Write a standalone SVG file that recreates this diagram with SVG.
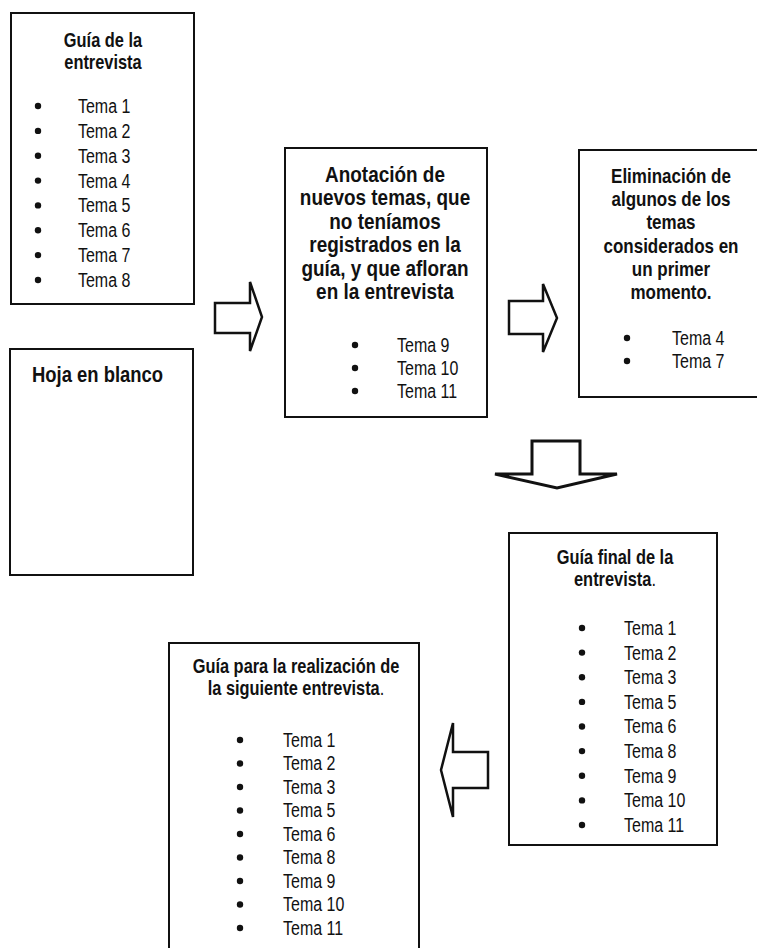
<svg xmlns="http://www.w3.org/2000/svg" width="757" height="948" viewBox="0 0 757 948">
<style>
.box{fill:#fff;stroke:#111;stroke-width:2}
.arrow{fill:#fff;stroke:#111;stroke-width:2.5;stroke-linejoin:miter}
text{font-family:"Liberation Sans",Arial,sans-serif;fill:#111}
.t{font-size:20px;font-weight:bold;text-anchor:middle}
.m{font-size:21.5px}
.i{font-size:19.5px}
.b{fill:#111}
.n{font-weight:normal}
</style>
<rect width="757" height="948" fill="#fff"/>
<g id="guia-entrevista">
<rect class="box" x="11" y="13" width="183" height="291"/>
<g transform="translate(103,0) scale(0.82,1) translate(-103,0)">
<text class="t" x="103" y="47">Guía de la</text>
<text class="t" x="103" y="69">entrevista</text>
</g>
<g class="b">
<circle cx="38" cy="106" r="3.2"/><circle cx="38" cy="130.9" r="3.2"/><circle cx="38" cy="155.7" r="3.2"/><circle cx="38" cy="180.6" r="3.2"/><circle cx="38" cy="205.4" r="3.2"/><circle cx="38" cy="230.3" r="3.2"/><circle cx="38" cy="255.1" r="3.2"/><circle cx="38" cy="280" r="3.2"/>
</g>
<g transform="translate(78,0) scale(0.82,1) translate(-78,0)">
<text class="i" x="78" y="113">Tema 1</text>
<text class="i" x="78" y="137.9">Tema 2</text>
<text class="i" x="78" y="162.7">Tema 3</text>
<text class="i" x="78" y="187.6">Tema 4</text>
<text class="i" x="78" y="212.4">Tema 5</text>
<text class="i" x="78" y="237.3">Tema 6</text>
<text class="i" x="78" y="262.1">Tema 7</text>
<text class="i" x="78" y="287">Tema 8</text>
</g>
</g>
<g id="hoja-blanco">
<rect class="box" x="10" y="349" width="183" height="226"/>
<g transform="translate(32,0) scale(0.82,1) translate(-32,0)">
<text x="32" y="382" style="font-size:22.5px;font-weight:bold">Hoja en blanco</text>
</g>
</g>
<g id="anotacion">
<rect class="box" x="285" y="148" width="202" height="269"/>
<g transform="translate(385,0) scale(0.88,1) translate(-385,0)">
<text class="t m" x="385" y="182">Anotación de</text>
<text class="t m" x="385" y="205.5">nuevos temas, que</text>
<text class="t m" x="385" y="229">no teníamos</text>
<text class="t m" x="385" y="252.5">registrados en la</text>
<text class="t m" x="385" y="276">guía, y que afloran</text>
<text class="t m" x="385" y="299.5">en la entrevista</text>
</g>
<g class="b"><circle cx="355" cy="345" r="3.2"/><circle cx="355" cy="368" r="3.2"/><circle cx="355" cy="391" r="3.2"/></g>
<g transform="translate(397,0) scale(0.82,1) translate(-397,0)">
<text class="i" x="397" y="352">Tema 9</text>
<text class="i" x="397" y="375">Tema 10</text>
<text class="i" x="397" y="398">Tema 11</text>
</g>
</g>
<g id="eliminacion">
<rect class="box" x="579" y="150" width="200" height="247"/>
<g transform="translate(671,0) scale(0.85,1) translate(-671,0)">
<text class="t" x="671" y="183">Eliminación de</text>
<text class="t" x="671" y="206">algunos de los</text>
<text class="t" x="671" y="229">temas</text>
<text class="t" x="671" y="253">considerados en</text>
<text class="t" x="671" y="276">un primer</text>
<text class="t" x="671" y="299">momento.</text>
</g>
<g class="b"><circle cx="627" cy="338" r="3.2"/><circle cx="627" cy="361" r="3.2"/></g>
<g transform="translate(672,0) scale(0.82,1) translate(-672,0)">
<text class="i" x="672" y="345">Tema 4</text>
<text class="i" x="672" y="368">Tema 7</text>
</g>
</g>
<g id="guia-final">
<rect class="box" x="509" y="533" width="208" height="312"/>
<g transform="translate(615,0) scale(0.82,1) translate(-615,0)">
<text class="t" x="615" y="564">Guía final de la</text>
<text class="t" x="615" y="586">entrevista<tspan class="n">.</tspan></text>
</g>
<g class="b">
<circle cx="582" cy="628" r="3.2"/><circle cx="582" cy="652.6" r="3.2"/><circle cx="582" cy="677.3" r="3.2"/><circle cx="582" cy="701.9" r="3.2"/><circle cx="582" cy="726.5" r="3.2"/><circle cx="582" cy="751.1" r="3.2"/><circle cx="582" cy="775.8" r="3.2"/><circle cx="582" cy="800.4" r="3.2"/><circle cx="582" cy="825" r="3.2"/>
</g>
<g transform="translate(624,0) scale(0.82,1) translate(-624,0)">
<text class="i" x="624" y="635">Tema 1</text>
<text class="i" x="624" y="659.6">Tema 2</text>
<text class="i" x="624" y="684.3">Tema 3</text>
<text class="i" x="624" y="708.9">Tema 5</text>
<text class="i" x="624" y="733.5">Tema 6</text>
<text class="i" x="624" y="758.1">Tema 8</text>
<text class="i" x="624" y="782.8">Tema 9</text>
<text class="i" x="624" y="807.4">Tema 10</text>
<text class="i" x="624" y="832">Tema 11</text>
</g>
</g>
<g id="guia-siguiente">
<rect class="box" x="169" y="643" width="250" height="320"/>
<g transform="translate(296,0) scale(0.82,1) translate(-296,0)">
<text class="t" x="296" y="673">Guía para la realización de</text>
<text class="t" x="296" y="695">la siguiente entrevista<tspan class="n">.</tspan></text>
</g>
<g class="b">
<circle cx="240" cy="740" r="3.2"/><circle cx="240" cy="763.5" r="3.2"/><circle cx="240" cy="787" r="3.2"/><circle cx="240" cy="810.5" r="3.2"/><circle cx="240" cy="834" r="3.2"/><circle cx="240" cy="857.5" r="3.2"/><circle cx="240" cy="881" r="3.2"/><circle cx="240" cy="904.5" r="3.2"/><circle cx="240" cy="928" r="3.2"/>
</g>
<g transform="translate(283,0) scale(0.82,1) translate(-283,0)">
<text class="i" x="283" y="747">Tema 1</text>
<text class="i" x="283" y="770.5">Tema 2</text>
<text class="i" x="283" y="794">Tema 3</text>
<text class="i" x="283" y="817.5">Tema 5</text>
<text class="i" x="283" y="841">Tema 6</text>
<text class="i" x="283" y="864.5">Tema 8</text>
<text class="i" x="283" y="888">Tema 9</text>
<text class="i" x="283" y="911.5">Tema 10</text>
<text class="i" x="283" y="935">Tema 11</text>
</g>
</g>
<g id="connectors">
<polygon class="arrow" points="215,303 250,303 250,282 262,317 250,351 250,333 215,333"/>
<polygon class="arrow" points="509,301 543,301 543,284 557,318 543,352 543,334 509,334"/>
<polygon class="arrow" style="stroke-width:3" points="532,474 532,441 580,441 580,474 617,474 557,488 495,474"/>
<polygon class="arrow" points="488,752 453,752 453,723 441,770 453,817 453,788 488,788"/>
</g>
</svg>
